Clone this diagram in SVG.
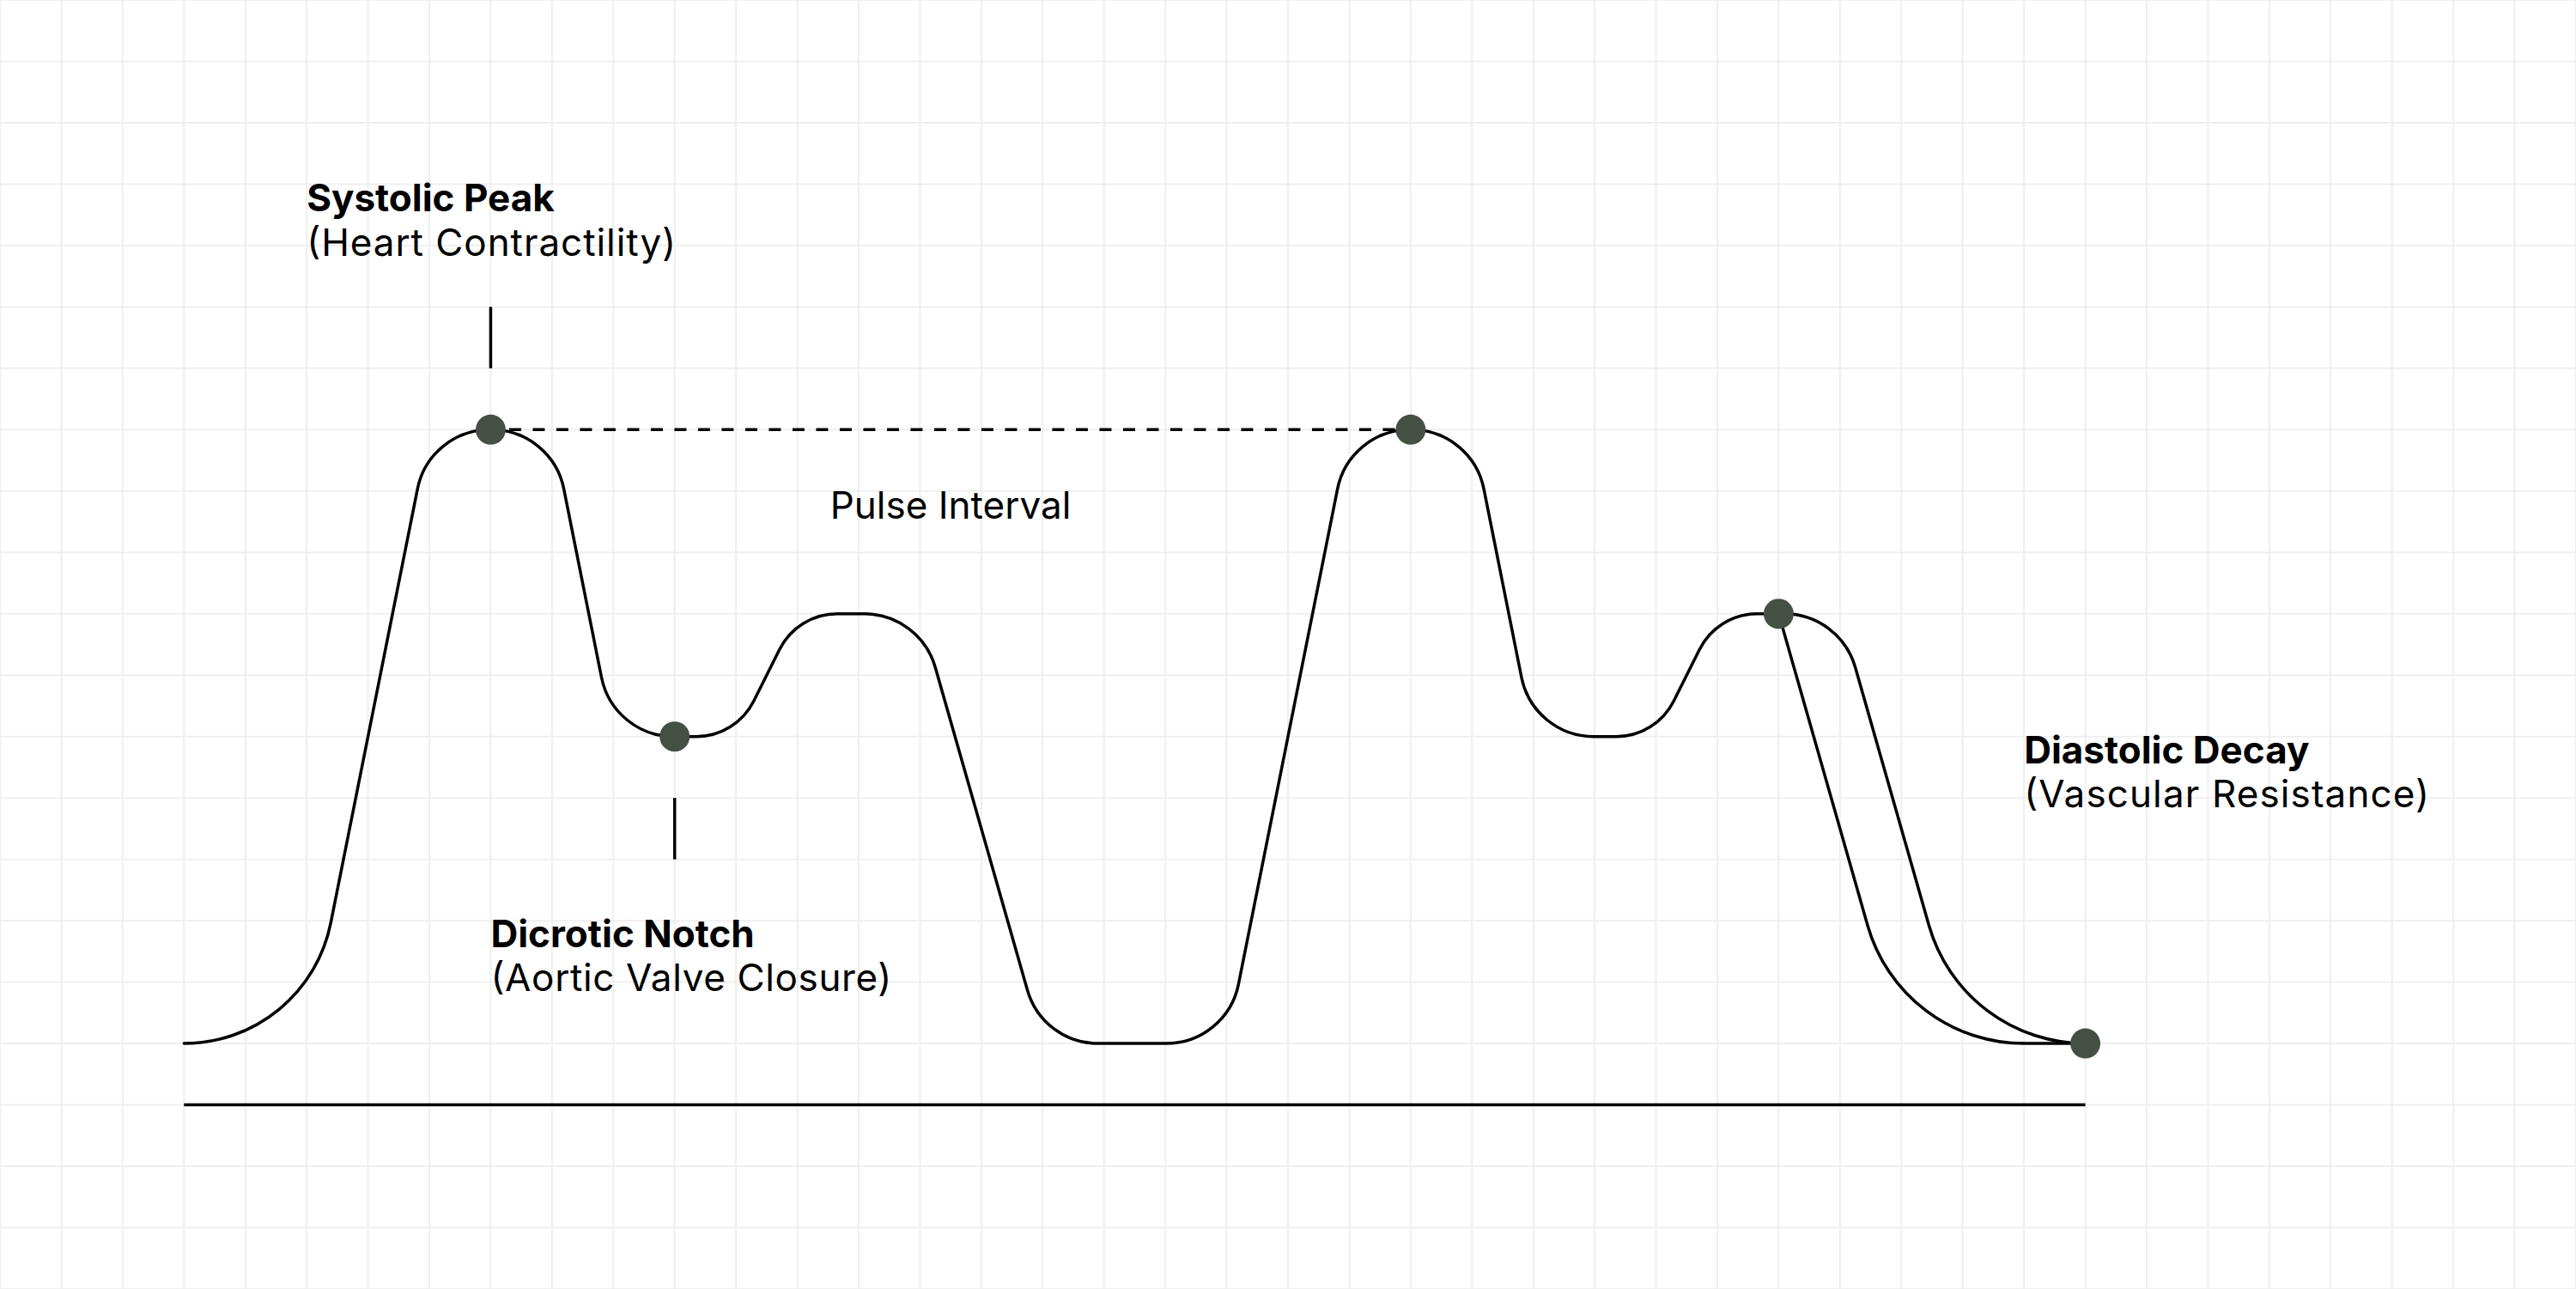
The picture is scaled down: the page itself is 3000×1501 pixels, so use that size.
<svg xmlns="http://www.w3.org/2000/svg" width="3000" height="1501" viewBox="0 0 3000 1501">
  <style>
    .grid { stroke: #efefef; stroke-width: 2; fill: none; }
    .wave { stroke: #000000; stroke-width: 3.5; fill: none; stroke-linejoin: round; stroke-linecap: round; }
    .axis { stroke: #000000; stroke-width: 3.5; fill: none; }
    .tick { stroke: #000000; stroke-width: 3.5; fill: none; }
    .dash { stroke: #000000; stroke-width: 3.5; fill: none; stroke-dasharray: 14 13.5; stroke-dashoffset: 6; }
    .dot { fill: #455045; }
    .title { font-family: "Inter", "Liberation Sans", sans-serif; font-size: 44px; font-weight: 700; fill: #000000; }
    .sub { font-family: "Inter", "Liberation Sans", sans-serif; font-size: 44px; font-weight: 400; fill: #000000; }
  </style>
  <rect x="0" y="0" width="3000" height="1501" fill="#ffffff"/>
  <g id="grid">
    <path class="grid" d="M0 0V1501M71.43 0V1501M142.86 0V1501M214.29 0V1501M285.71 0V1501M357.14 0V1501M428.57 0V1501M500 0V1501M571.43 0V1501M642.86 0V1501M714.29 0V1501M785.71 0V1501M857.14 0V1501M928.57 0V1501M1000 0V1501M1071.43 0V1501M1142.86 0V1501M1214.29 0V1501M1285.71 0V1501M1357.14 0V1501M1428.57 0V1501M1500 0V1501M1571.43 0V1501M1642.86 0V1501M1714.29 0V1501M1785.71 0V1501M1857.14 0V1501M1928.57 0V1501M2000 0V1501M2071.43 0V1501M2142.86 0V1501M2214.29 0V1501M2285.71 0V1501M2357.14 0V1501M2428.57 0V1501M2500 0V1501M2571.43 0V1501M2642.86 0V1501M2714.29 0V1501M2785.71 0V1501M2857.14 0V1501M2928.57 0V1501M3000 0V1501"/>
    <path class="grid" d="M0 0H3000M0 71.48H3000M0 142.95H3000M0 214.43H3000M0 285.9H3000M0 357.38H3000M0 428.86H3000M0 500.33H3000M0 571.81H3000M0 643.29H3000M0 714.76H3000M0 786.24H3000M0 857.71H3000M0 929.19H3000M0 1000.67H3000M0 1072.14H3000M0 1143.62H3000M0 1215.1H3000M0 1286.57H3000M0 1358.05H3000M0 1429.52H3000M0 1501H3000"/>
  </g>
  <g id="connectors">
    <path id="axis" class="axis" d="M214.29 1286.57H2428.57"/>
    <path id="waveform" class="wave" d="M214.29 1215.1 A174.31 174.31 0 0 0 385.16 1074.92 L486.22 569.29 A85.74 85.74 0 0 1 570.27 500.33 L572.59 500.33 A85.74 85.74 0 0 1 656.64 569.29 L700.5 788.76 A85.74 85.74 0 0 0 784.56 857.71 L810.79 857.71 A75.02 75.02 0 0 0 877.87 816.22 L907.84 756.26 A75.02 75.02 0 0 1 974.93 714.76 L1006.77 714.76 A85.74 85.74 0 0 1 1089.19 776.97 L1196.52 1152.9 A85.74 85.74 0 0 0 1278.94 1215.1 L1358.3 1215.1 A85.74 85.74 0 0 0 1442.35 1146.15 L1557.65 569.29 A85.74 85.74 0 0 1 1641.7 500.33 L1644.01 500.33 A85.74 85.74 0 0 1 1728.07 569.29 L1771.93 788.76 A85.74 85.74 0 0 0 1855.99 857.71 L1882.21 857.71 A75.02 75.02 0 0 0 1949.3 816.22 L1979.27 756.26 A75.02 75.02 0 0 1 2046.36 714.76 L2078.2 714.76 A85.74 85.74 0 0 1 2160.62 776.97 L2246.47 1077.65 A189.45 189.45 0 0 0 2428.57 1215.1"/>
    <path id="decay-alt" class="wave" d="M2071.43 714.76 L2175.04 1077.65 A189.45 189.45 0 0 0 2357.14 1215.1 L2428.57 1215.1"/>
    <path id="pulse-interval-line" class="dash" d="M571.43 500.33H1642.86"/>
    <path id="tick-systolic" class="tick" d="M571.43 357.38V428.86"/>
    <path id="tick-notch" class="tick" d="M785.71 929.19V1000.67"/>
  </g>
  <g id="node-systolic-peak">
    <circle class="dot" cx="571.43" cy="500.33" r="17.5"/>
    <text class="title" x="357.14" y="246">Systolic Peak</text>
    <text class="sub" x="357.14" y="298" textLength="430" lengthAdjust="spacing">(Heart Contractility)</text>
  </g>
  <g id="node-dicrotic-notch">
    <circle class="dot" cx="785.71" cy="857.71" r="17.5"/>
    <text class="title" x="571.43" y="1103">Dicrotic Notch</text>
    <text class="sub" x="571.43" y="1154" textLength="467" lengthAdjust="spacing">(Aortic Valve Closure)</text>
  </g>
  <g id="node-second-peak">
    <circle class="dot" cx="1642.86" cy="500.33" r="17.5"/>
  </g>
  <g id="node-pulse-interval">
    <text class="sub" x="1107" y="604" text-anchor="middle">Pulse Interval</text>
  </g>
  <g id="node-third-hump">
    <circle class="dot" cx="2071.43" cy="714.76" r="17.5"/>
  </g>
  <g id="node-diastolic-decay">
    <circle class="dot" cx="2428.57" cy="1215.1" r="17.5"/>
    <text class="title" x="2357.14" y="889">Diastolic Decay</text>
    <text class="sub" x="2357.14" y="940" textLength="472" lengthAdjust="spacing">(Vascular Resistance)</text>
  </g>
</svg>
